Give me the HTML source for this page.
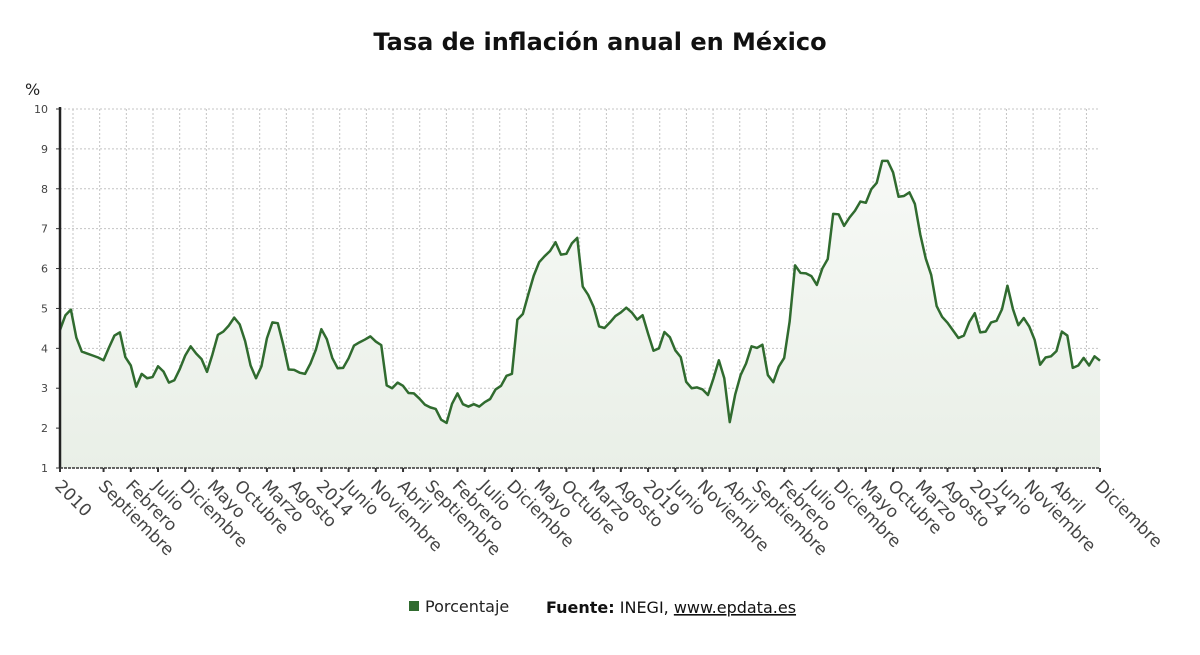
<!DOCTYPE html>
<html><head><meta charset="utf-8">
<style>
body{margin:0;background:#fff;width:1200px;height:651px;overflow:hidden;font-family:"DejaVu Sans","Liberation Sans",sans-serif;}
</style></head>
<body>
<svg width="1200" height="651" viewBox="0 0 1200 651">
<defs>
<linearGradient id="fillg" x1="0" y1="0" x2="0" y2="1">
<stop offset="0" stop-color="#f7f9f6"/><stop offset="1" stop-color="#e9efe7"/>
</linearGradient>
</defs>
<text x="600" y="50" text-anchor="middle" font-size="24" font-weight="bold" fill="#111">Tasa de inflación anual en México</text>
<text x="25" y="95" font-size="16" fill="#222">%</text>
<g id="grid"></g>
<path id="area" fill="url(#fillg)"/>
<path id="line" fill="none" stroke="#306b2f" stroke-width="2.5" stroke-linejoin="round"/>
<g id="axes"></g>
<g>
<rect x="409" y="601" width="10" height="10" fill="#306b2f"/>
<text x="425" y="612" font-size="16" fill="#222">Porcentaje</text>
<text x="546" y="613" font-size="16" fill="#111"><tspan font-weight="bold">Fuente:</tspan> INEGI, <tspan text-decoration="underline">www.epdata.es</tspan></text>
</g>
</svg>
<script>
const years=[2010,2011,2012,2013,2014,2015,2016,2017,2018,2019,2020,2021,2022,2023,2024,2025];
const values=[
4.46,4.83,4.97,4.27,3.92,3.87,3.82,3.77,3.70,4.02,4.32,4.40,
3.78,3.57,3.04,3.36,3.25,3.28,3.55,3.42,3.14,3.20,3.48,3.82,
4.05,3.87,3.73,3.41,3.85,4.34,4.42,4.57,4.77,4.60,4.18,3.57,
3.25,3.55,4.25,4.65,4.63,4.09,3.47,3.46,3.39,3.36,3.62,3.97,
4.48,4.23,3.76,3.50,3.51,3.75,4.07,4.15,4.22,4.30,4.17,4.08,
3.07,3.00,3.14,3.06,2.88,2.87,2.74,2.59,2.52,2.48,2.21,2.13,
2.61,2.87,2.60,2.54,2.60,2.54,2.65,2.73,2.97,3.06,3.31,3.36,
4.72,4.86,5.35,5.82,6.16,6.31,6.44,6.66,6.35,6.37,6.63,6.77,
5.55,5.34,5.04,4.55,4.51,4.65,4.81,4.90,5.02,4.90,4.72,4.83,
4.37,3.94,4.00,4.41,4.28,3.95,3.78,3.16,3.00,3.02,2.97,2.83,
3.24,3.70,3.25,2.15,2.84,3.33,3.62,4.05,4.01,4.09,3.33,3.15,
3.54,3.76,4.67,6.08,5.89,5.88,5.81,5.59,6.00,6.24,7.37,7.36,
7.07,7.28,7.45,7.68,7.65,7.99,8.15,8.70,8.70,8.41,7.80,7.82,
7.91,7.62,6.85,6.25,5.84,5.06,4.79,4.64,4.45,4.26,4.32,4.66,
4.88,4.40,4.42,4.65,4.69,4.98,5.57,4.99,4.58,4.76,4.55,4.21,
3.59,3.77,3.80,3.93,4.42,4.32,3.51,3.57,3.76,3.57,3.80,3.69];
const yTicks=[1,2,3,4,5,6,7,8,9,10];
const monthNames=["Enero","Febrero","Marzo","Abril","Mayo","Junio","Julio","Agosto","Septiembre","Octubre","Noviembre","Diciembre"];
const labelIdx=[0,8,13,18,23,28,33,38,43,48,53,58,63,68,73,78,83,88,93,98,103,108,113,118,123,128,133,138,143,148,153,158,163,168,173,178,183,191];

const X0=60,X1=1100,Y0=468,Y1=109;
const n=values.length;
const x=i=>X0+i*(X1-X0)/(n-1);
const y=v=>Y0-(v-1)*(Y0-Y1)/9;
const NS='http://www.w3.org/2000/svg';
function mk(tag,attrs,parent){const e=document.createElementNS(NS,tag);for(const k in attrs)e.setAttribute(k,attrs[k]);parent.appendChild(e);return e;}
const grid=document.getElementById('grid'),axes=document.getElementById('axes');
yTicks.forEach(t=>{
 if(t>1){const g=mk('line',{x1:X0,x2:X1,y1:y(t),y2:y(t),stroke:'#c4c4c4','stroke-dasharray':'2,2'},grid);
 
 }
 const tl=mk('text',{x:X0-12,y:y(t)+4,'text-anchor':'end','font-size':11,fill:'#444'},axes);
 tl.textContent=t;
 
 
 mk('line',{x1:X0-4,x2:X0,y1:y(t),y2:y(t),stroke:'#333'},axes);
});
for(let gx=73;gx<X1;gx+=26.67){
 const g=mk('line',{x1:gx,x2:gx,y1:Y1,y2:Y0,stroke:'#c4c4c4','stroke-dasharray':'2,2'},grid);
 
 
}
let d='';values.forEach((v,i)=>{d+=(i?'L':'M')+x(i).toFixed(2)+','+y(v).toFixed(2);});
document.getElementById('line').setAttribute('d',d);
document.getElementById('area').setAttribute('d',d+'L'+x(n-1)+','+Y0+'L'+X0+','+Y0+'Z');
mk('line',{x1:X0,x2:X0,y1:Y1-2,y2:Y0,stroke:'#222','stroke-width':2.5},axes);
mk('line',{x1:X0,x2:X1,y1:Y0,y2:Y0,stroke:'#333','stroke-width':1.5,'stroke-dasharray':'3,1'},axes);
labelIdx.forEach(i=>{
 const yr=years[Math.floor(i/12)],m=i%12;
 const txt=(m===0&&i!==191)?String(yr):monthNames[m];
 mk('line',{x1:x(i),x2:x(i),y1:Y0,y2:Y0+4,stroke:'#333','stroke-width':2},axes);
 const t=mk('text',{x:0,y:0,'font-size':17,fill:'#444',transform:`translate(${x(i)-6},${Y0+19}) rotate(45)`},axes);
 t.textContent=txt;
 
 
});
</script>
</body></html>
